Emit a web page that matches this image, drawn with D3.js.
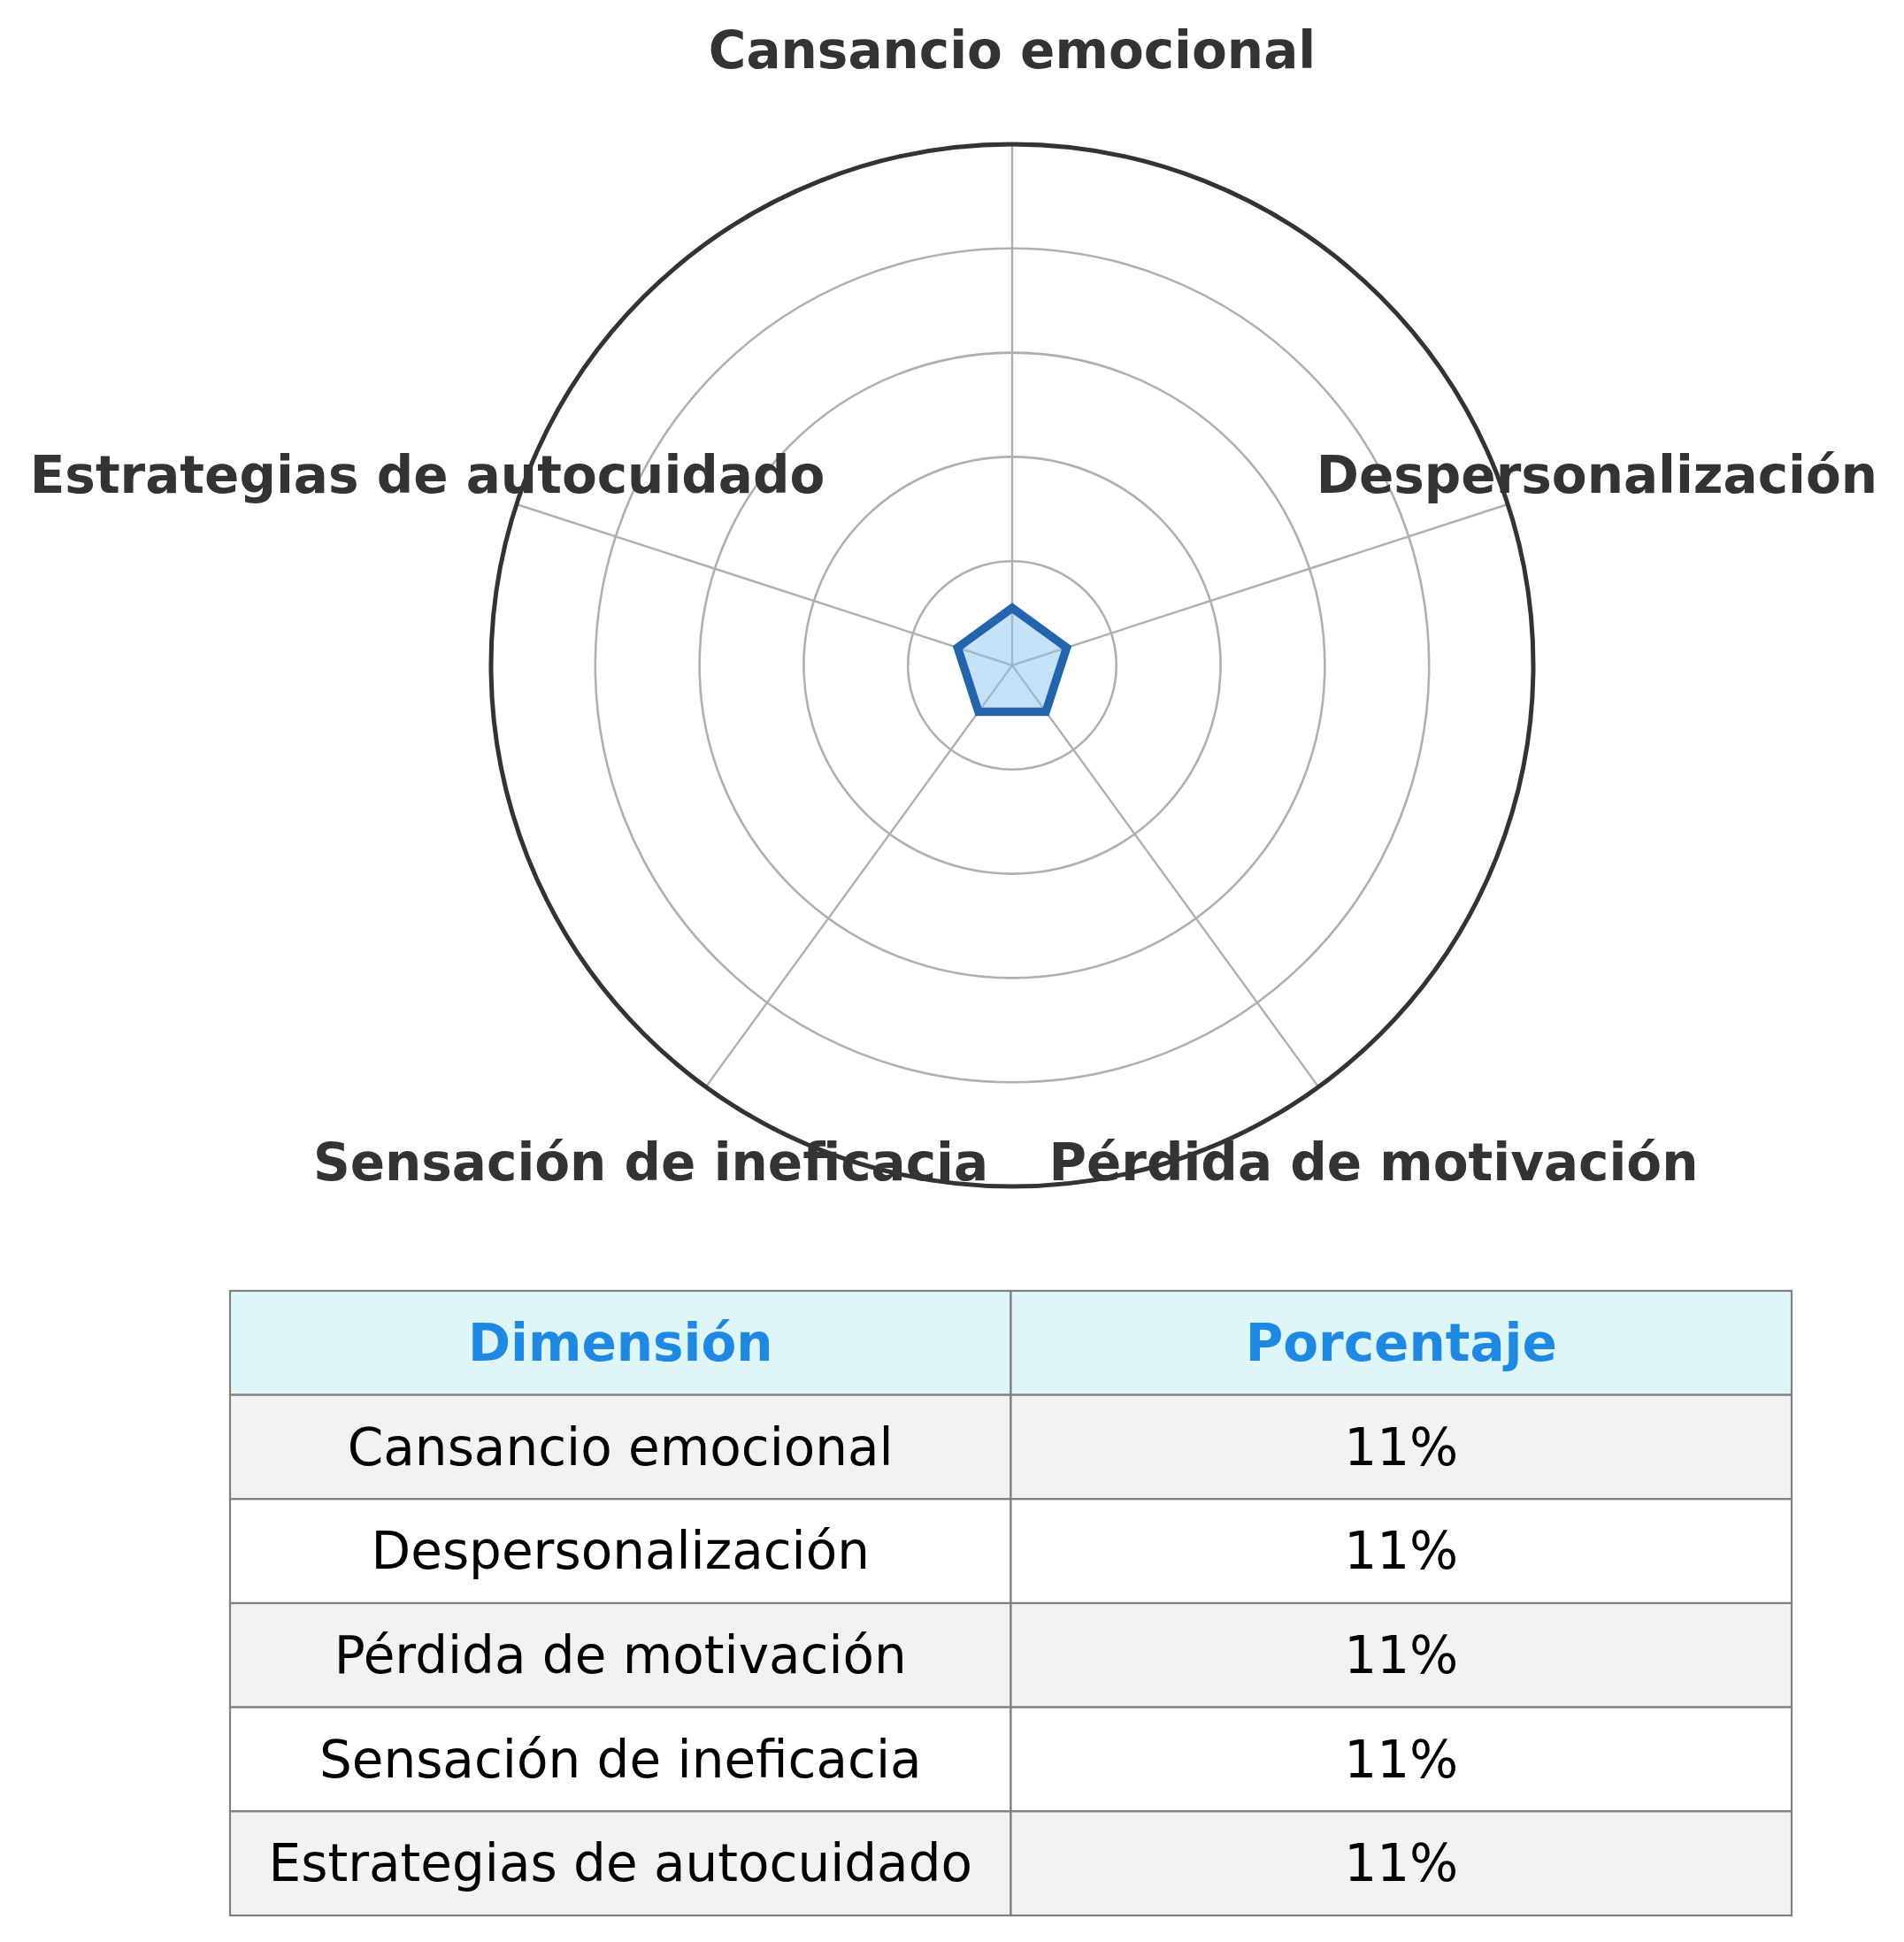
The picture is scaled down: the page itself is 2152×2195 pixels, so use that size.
<!DOCTYPE html>
<html>
<head>
<meta charset="utf-8">
<script src="https://cdn.jsdelivr.net/npm/d3@7"></script>
<style>
  html, body { margin: 0; padding: 0; background: #ffffff; }
  svg { display: block; }
</style>
</head>
<body>
<svg id="chart" width="2152" height="2195"></svg>
<script>
// ---- data ----
const dimensions = [
  "Cansancio emocional",
  "Despersonalización",
  "Pérdida de motivación",
  "Sensación de ineficacia",
  "Estrategias de autocuidado"
];
const values = [11, 11, 11, 11, 11];
const ringTicks = [20, 40, 60, 80, 100];
const tableHeaders = ["Dimensión", "Porcentaje"];

// ---- layout ----
const cx = 1144, cy = 752;
const R = 589;
const labelR = 695;

const svg = d3.select("#chart");
const g = svg.append("g").attr("transform", `translate(${cx},${cy})`);

const r = d3.scaleLinear().domain([0, 100]).range([0, R]);
const angle = d3.scaleLinear().domain([0, dimensions.length]).range([0, 2 * Math.PI]);

// grid rings (inner ones)
g.selectAll("circle.ring")
  .data(ringTicks.slice(0, -1))
  .join("circle")
  .attr("class", "ring")
  .attr("r", d => r(d))
  .attr("fill", "none")
  .attr("stroke", "#b0b0b0")
  .attr("stroke-width", 2.6);

// spokes
g.selectAll("line.spoke")
  .data(dimensions)
  .join("line")
  .attr("class", "spoke")
  .attr("x1", 0).attr("y1", 0)
  .attr("x2", (d, i) => r(100) * Math.sin(angle(i)))
  .attr("y2", (d, i) => -r(100) * Math.cos(angle(i)))
  .attr("stroke", "#b0b0b0")
  .attr("stroke-width", 2.4);

// data polygon
const radial = d3.lineRadial()
  .angle((d, i) => angle(i))
  .radius(d => r(d))
  .curve(d3.curveLinearClosed);

g.append("path")
  .datum(values)
  .attr("d", radial)
  .attr("fill", "#8ec3ec")
  .attr("fill-opacity", 0.5)
  .attr("stroke", "#2364ae")
  .attr("stroke-width", 9.5)
  .attr("stroke-linejoin", "miter");

// outer circle
g.append("circle")
  .attr("r", r(100))
  .attr("fill", "none")
  .attr("stroke", "#333333")
  .attr("stroke-width", 5);

// axis labels
g.selectAll("text.axlabel")
  .data(dimensions)
  .join("text")
  .attr("class", "axlabel")
  .attr("x", (d, i) => labelR * Math.sin(angle(i)))
  .attr("y", (d, i) => -labelR * Math.cos(angle(i)))
  .attr("text-anchor", "middle")
  .attr("dominant-baseline", "central")
  .attr("font-family", "DejaVu Sans")
  .attr("font-weight", "bold")
  .attr("font-size", 58)
  .attr("fill", "#333333")
  .text(d => d);

// ---- table ----
const tLeft = 260, tRight = 2025, tTop = 1459, tBottom = 2165;
const rowsData = dimensions.map((d, i) => [d, values[i] + "%"]);
const allRows = [tableHeaders].concat(rowsData);

const col = d3.scaleBand().domain(d3.range(2)).range([tLeft, tRight]);
const row = d3.scaleBand().domain(d3.range(allRows.length)).range([tTop, tBottom]);

const tg = svg.append("g");
const rowG = tg.selectAll("g.row")
  .data(allRows)
  .join("g")
  .attr("class", "row");

rowG.each(function(rowVals, ri) {
  const sel = d3.select(this);
  sel.selectAll("rect")
    .data(rowVals)
    .join("rect")
    .attr("x", (d, ci) => col(ci))
    .attr("y", row(ri))
    .attr("width", col.bandwidth())
    .attr("height", row.bandwidth())
    .attr("fill", ri === 0 ? "#dff6f9" : (ri % 2 === 1 ? "#f2f2f2" : "#ffffff"))
    .attr("stroke", "#808080")
    .attr("stroke-width", 2.2);
  sel.selectAll("text")
    .data(rowVals)
    .join("text")
    .attr("x", (d, ci) => col(ci) + col.bandwidth() / 2)
    .attr("y", row(ri) + row.bandwidth() / 2)
    .attr("text-anchor", "middle")
    .attr("dominant-baseline", "central")
    .attr("font-family", "DejaVu Sans")
    .attr("font-weight", ri === 0 ? "bold" : "normal")
    .attr("font-size", 58)
    .attr("fill", ri === 0 ? "#1e88e5" : "#000000")
    .text(d => d);
});
</script>
</body>
</html>
